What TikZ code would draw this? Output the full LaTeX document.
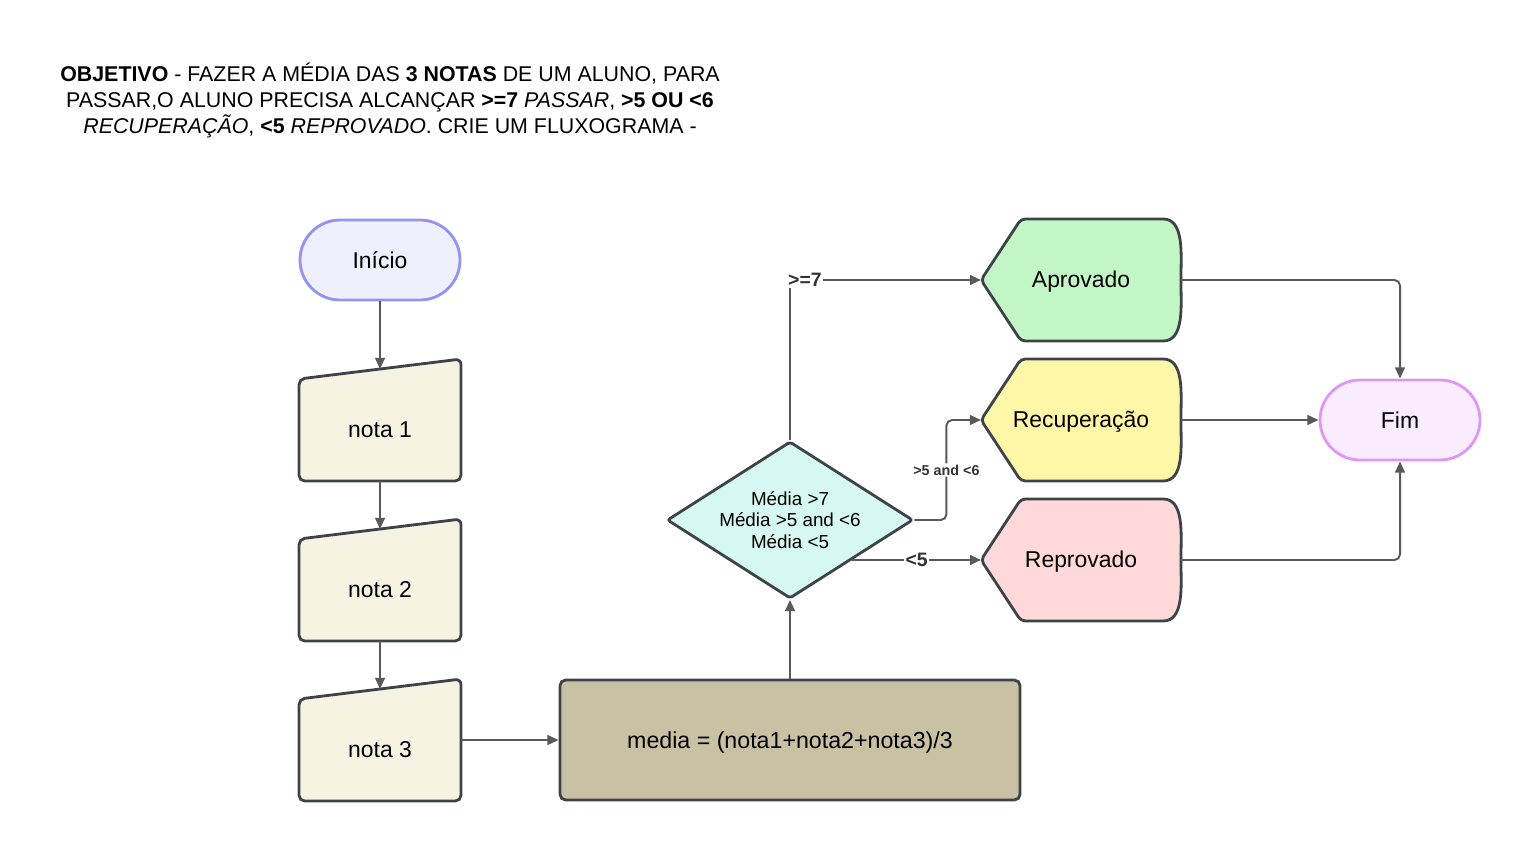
\documentclass[tikz,border=0pt]{standalone}
\usepackage{fontspec}
\setmainfont{Liberation Sans}
\usetikzlibrary{positioning,calc,shapes.geometric,arrows.meta,backgrounds}

\definecolor{linegray}{HTML}{595959}
\definecolor{nodeborder}{HTML}{3E4349}
\definecolor{startdraw}{HTML}{9393F2}
\definecolor{startfill}{HTML}{EFEFFD}
\definecolor{enddraw}{HTML}{E096F6}
\definecolor{endfill}{HTML}{F9ECFE}
\definecolor{notafill}{HTML}{F6F3E3}
\definecolor{calcfill}{HTML}{C9C1A3}
\definecolor{decfill}{HTML}{D6F8F2}
\definecolor{aprfill}{HTML}{C3F6C6}
\definecolor{recfill}{HTML}{FFF7A8}
\definecolor{repfill}{HTML}{FFD8DA}
\definecolor{lbltext}{HTML}{333333}

\begin{document}
\begin{tikzpicture}[-{Triangle[length=8pt,width=7pt]}, node distance=4cm and 4cm, on grid,
line width=1.4pt, draw=linegray,
terminal/.style={rectangle, rounded corners=1cm, minimum width=4cm,
  minimum height=2cm, line width=2pt, font=\fontsize{16.3}{19}\selectfont},
startnode/.style={terminal, draw=startdraw, fill=startfill},
endnode/.style={terminal, draw=enddraw, fill=endfill},
notabox/.style={rectangle, minimum width=4cm, minimum height=2.75cm,
  inner sep=0pt, text height=0.65cm, font=\fontsize{16.3}{19}\selectfont},
inputshape/.style={draw=nodeborder, fill=notafill, line width=2pt, rounded corners=4pt},
calcbox/.style={rectangle, rounded corners=4pt, draw=nodeborder, fill=calcfill,
  line width=2pt, minimum width=11.5cm, minimum height=3cm, text height=0.55cm,
  font=\fontsize{16.5}{19}\selectfont},
decision/.style={diamond, aspect=1.57, draw=nodeborder, fill=decfill, line width=2pt,
  minimum width=6.15cm, minimum height=3.925cm, inner sep=0pt, align=center,
  rounded corners=2pt, font=\fontsize{13.4}{15.3}\selectfont},
result/.style={rectangle, minimum width=4.95cm, minimum height=3cm,
  inner sep=0pt, text height=0.5cm, font=\fontsize{16.3}{19}\selectfont},
displayshape/.style={draw=nodeborder, line width=2pt, rounded corners=3pt},
lbl/.style={fill=white, inner sep=1pt, text=lbltext, font=\bfseries\fontsize{13.8}{15}\selectfont},
smalllbl/.style={lbl, font=\bfseries\fontsize{10.2}{12}\selectfont}
]
\useasboundingbox (0,0) rectangle (38,21);

% enunciado
\node[align=center, font=\fontsize{15.2}{18.5}\selectfont] (titulo) at (9.75,18.5)
{\textbf{OBJETIVO} - FAZER A MÉDIA DAS \textbf{3 NOTAS} DE UM ALUNO, PARA\\
PASSAR,O ALUNO PRECISA ALCANÇAR \textbf{>=7} \textit{PASSAR}, \textbf{>5 OU <6}\\
\textit{RECUPERAÇÃO}, \textbf{<5} \textit{REPROVADO}. CRIE UM FLUXOGRAMA -};

% nodes
\node[startnode] (inicio) at (9.5,14.5) {Início};
\node[notabox] (n1) [below=4.125cm of inicio] {nota 1};
\node[notabox] (n2) [below=4cm of n1] {nota 2};
\node[notabox] (n3) [below=4cm of n2] {nota 3};
\node[calcbox] (media) [above right=0.125cm and 10.25cm of n3] {media = (nota1+nota2+nota3)/3};
\node[decision] (d) [above=5.5cm of media] {Média >7\\Média >5 and <6\\Média <5};
\node[result] (rec) [above right=2.5cm and 7.275cm of d] {Recuperação};
\node[result] (apr) [above=3.5cm of rec] {Aprovado};
\node[result] (rep) [below=3.5cm of rec] {Reprovado};
\node[endnode] (fim) [right=7.975cm of rec] {Fim};

% shapes behind the texts
\begin{scope}[on background layer, -]
\foreach \n in {n1,n2,n3}
  \draw[inputshape] (\n.south west) -- ($(\n.north west)+(0,-0.25)$)
    -- ($(\n.north east)+(0,0.25)$) -- (\n.south east) -- cycle;
\foreach \n/\c in {apr/aprfill,rec/recfill,rep/repfill}
  \draw[displayshape, fill=\c] (\n.west) -- ($(\n.north west)+(1,0)$)
    -- ($(\n.north east)+(-0.55,0)$) to[out=0,in=90] (\n.east)
    to[out=-90,in=0] ($(\n.south east)+(-0.55,0)$)
    -- ($(\n.south west)+(1,0)$) -- cycle;
\end{scope}

% connectors
\draw (inicio) -- (n1);
\draw (n1) -- (n2);
\draw (n2) -- (n3);
\draw (media.west -| n3.east) -- (media.west);
\draw (media) -- (d);
\draw (d.north) |- (apr.west);
\node[lbl, anchor=west] (l1) at ([xshift=-3pt]d.north |- apr.west) {>=7};
\draw[rounded corners=4pt] (d.east) -- ++(0.8,0) |- (rec.west)
  node[smalllbl, pos=0.25] (l2) {>5 and <6};
\draw (d.south east |- rep.west) -- (rep.west) node[lbl, pos=0.5] (l3) {<5};
\draw[rounded corners=4pt] (apr.east) -| (fim.north);
\draw (rec) -- (fim);
\draw[rounded corners=4pt] (rep.east) -| (fim.south);
\end{tikzpicture}
\end{document}
